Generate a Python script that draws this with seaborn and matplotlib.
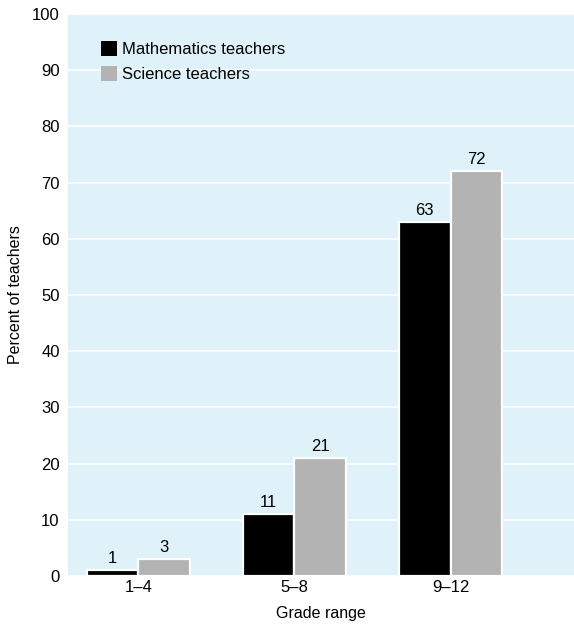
import pandas as pd
import numpy as np
import matplotlib
matplotlib.use('Agg')
import matplotlib.pyplot as plt
import seaborn as sns

grades = ['1–4', '5–8', '9–12']
math_pct = [1, 11, 63]
science_pct = [3, 21, 72]
series = ['Mathematics teachers', 'Science teachers']

df = pd.DataFrame({
    'grade': grades * 2,
    'pct': math_pct + science_pct,
    'group': [series[0]] * 3 + [series[1]] * 3,
})

sns.set_style('white')
plt.rcParams['font.family'] = ['Liberation Sans', 'DejaVu Sans']
plt.rcParams['text.color'] = 'black'
plt.rcParams['axes.labelcolor'] = 'black'
plt.rcParams['xtick.color'] = 'black'
plt.rcParams['ytick.color'] = 'black'

fig = plt.figure(figsize=(5.74, 6.26), dpi=100)
ax = fig.add_axes([0.1185, 0.08, 0.8815, 0.8976])
ax.set_facecolor('#dff1f9')

sns.barplot(data=df, x='grade', y='pct', hue='group', palette=['#000000', '#b3b3b3'],
            width=0.66, edgecolor='white', linewidth=1.6, ax=ax, zorder=3)

for c in ax.containers:
    ax.bar_label(c, padding=3, fontsize=12, color='black')

ax.set_ylim(0, 100)
ax.set_xlim(-0.45, 2.79)
ax.set_yticks(range(0, 101, 10))
ax.yaxis.grid(True, color='white', linewidth=1.2, zorder=0)
ax.set_axisbelow(True)
for s in ax.spines.values():
    s.set_visible(False)
ax.tick_params(axis='both', length=0, labelsize=12, labelcolor='black')
ax.tick_params(axis='x', pad=3)
ax.tick_params(axis='y', pad=6)
ax.set_xlabel('Grade range', fontsize=11.5, fontweight='medium', color='black')
ax.set_ylabel('Percent of teachers', fontsize=11.5, fontweight='medium', color='black')
ax.xaxis.set_label_coords(0.5, -0.054)
ax.yaxis.set_label_coords(-0.089, 0.5)

leg = ax.legend(loc='upper left', bbox_to_anchor=(0.035, 0.978), frameon=False,
                fontsize=12, handlelength=0.95, handleheight=0.95, handletextpad=0.35,
                labelspacing=0.55)
for h in leg.legend_handles:
    h.set_edgecolor('none')
for t in leg.get_texts():
    t.set_color('black')

fig.savefig('out.png', dpi=100)
